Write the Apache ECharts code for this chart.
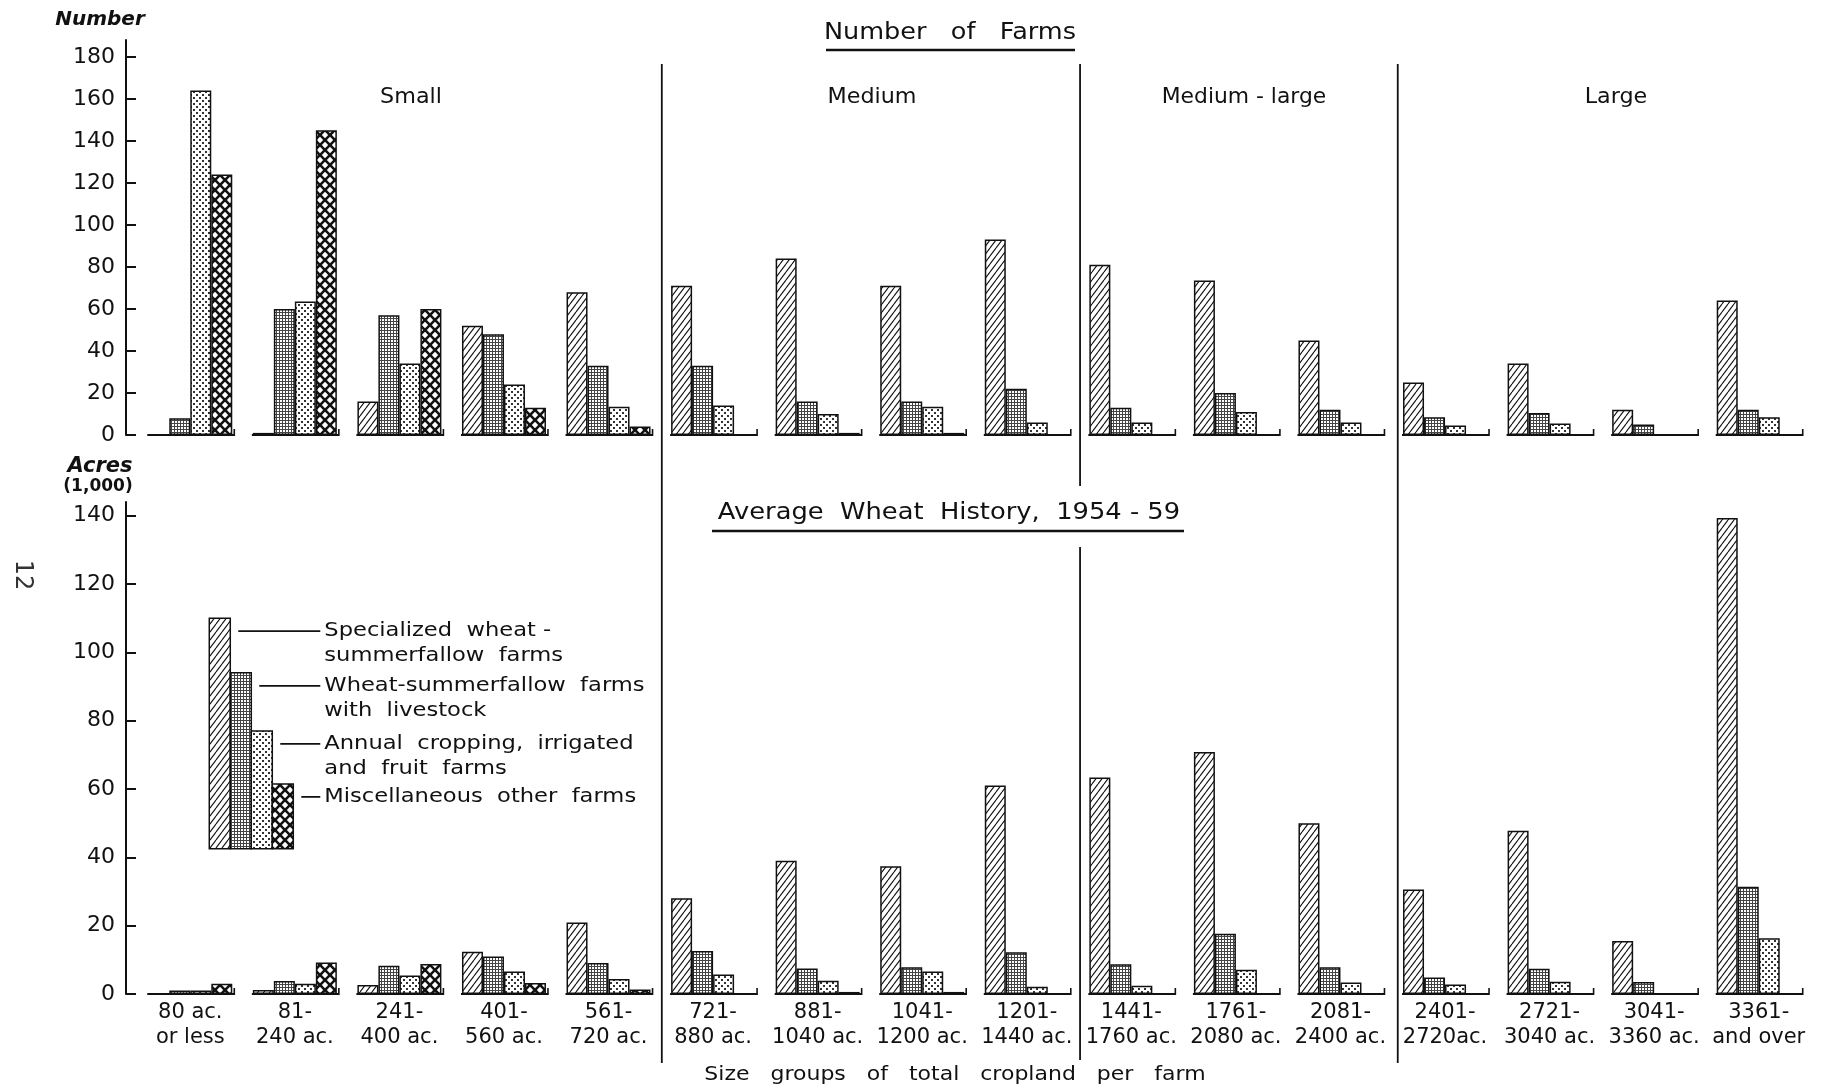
<!DOCTYPE html>
<html>
<head>
<meta charset="utf-8">
<script src="https://cdn.jsdelivr.net/npm/echarts@6/dist/echarts.min.js"></script>
<style>
html,body{margin:0;padding:0;background:#fff;}
#chart{width:1834px;height:1089px;}
</style>
</head>
<body>
<div id="chart"></div>
<script>
// ---------------- data ----------------
const categories = [
  '80 ac.\nor less', '81-\n240 ac.', '241-\n400 ac.', '401-\n560 ac.', '561-\n720 ac.',
  '721-\n880 ac.', '881-\n1040 ac.', '1041-\n1200 ac.', '1201-\n1440 ac.',
  '1441-\n1760 ac.', '1761-\n2080 ac.', '2081-\n2400 ac.',
  '2401-\n2720ac.', '2721-\n3040 ac.', '3041-\n3360 ac.', '3361-\nand over'
];
const seriesNames = [
  'Specialized wheat-summerfallow farms',
  'Wheat-summerfallow farms with livestock',
  'Annual cropping, irrigated and fruit farms',
  'Miscellaneous other farms'
];
// Number of farms
const farmsSpecialized = [0, 1, 16, 52, 68, 71, 84, 71, 93, 81, 73.5, 45, 25, 34, 12, 64];
const farmsLivestock   = [8, 60, 57, 48, 33, 33, 16, 16, 22, 13, 20, 12, 8.5, 10.5, 5, 12];
const farmsAnnual      = [164, 63.5, 34, 24, 13.5, 14, 10, 13.5, 6, 6, 11, 6, 4.5, 5.5, 0, 8.5];
const farmsMisc        = [124, 145, 60, 13, 4, 0, 1, 1, 0, 0, 0, 0, 0, 0, 0, 0];
// Average wheat history 1954-59, 1,000 acres
const acresSpecialized = [0, 1.2, 2.6, 12.4, 20.9, 28, 39, 37.4, 61, 63.4, 70.8, 50, 30.6, 47.8, 15.5, 139.3];
const acresLivestock   = [1, 3.8, 8.3, 11, 9.1, 12.6, 7.5, 7.8, 12.2, 8.7, 17.6, 7.8, 4.8, 7.4, 3.5, 31.4];
const acresAnnual      = [1, 3, 5.4, 6.6, 4.4, 5.7, 3.9, 6.6, 2.1, 2.4, 7.1, 3.4, 2.8, 3.6, 0, 16.3];
const acresMisc        = [3, 9.2, 8.8, 3.2, 1.3, 0, 0.6, 0.6, 0, 0, 0, 0, 0, 0, 0, 0];
// tick labels
const farmTicks = [0, 20, 40, 60, 80, 100, 120, 140, 160, 180];
const acreTicks = [0, 20, 40, 60, 80, 100, 120, 140];
// size classes: first category of each class after the first
const classStarts = [5, 9, 12];
const classNames = ['Small', 'Medium', 'Medium - large', 'Large'];
// legend key (drawn in acres scale)
const legendTops = [110, 94, 77, 61.5];
const legendBase = 42.5;
const legendText = [
  ['Specialized  wheat -', 'summerfallow  farms'],
  ['Wheat-summerfallow  farms', 'with  livestock'],
  ['Annual  cropping,  irrigated', 'and  fruit  farms'],
  ['Miscellaneous  other  farms']
];

// ---------------- styles ----------------
const FONT = "'DejaVu Sans', sans-serif";
const INK = '#111';
const BAR_W = 21;

function makeCanvas(w, h, draw) {
  const c = document.createElement('canvas');
  c.width = w; c.height = h;
  const g = c.getContext('2d');
  g.fillStyle = '#fff';
  g.fillRect(0, 0, w, h);
  draw(g, w, h);
  return c;
}
const hatchCanvas = makeCanvas(6, 8, (g, w, h) => {
  g.strokeStyle = INK; g.lineWidth = 1.1;
  g.beginPath();
  g.moveTo(0, h); g.lineTo(w, 0);
  g.moveTo(-w, h); g.lineTo(0, 0);
  g.moveTo(w, h); g.lineTo(2 * w, 0);
  g.stroke();
});
const gridCanvas = makeCanvas(3, 3, (g) => {
  g.fillStyle = '#444';
  g.fillRect(0, 0, 3, 1);
  g.fillRect(0, 0, 1, 3);
});
const dotCanvas = makeCanvas(6, 6, (g) => {
  g.fillStyle = '#333';
  g.fillRect(1, 1, 2, 2);
  g.fillRect(4, 4, 2, 2);
});
const diamondCanvas = makeCanvas(10, 10, (g) => {
  g.fillStyle = INK; g.fillRect(0, 0, 10, 10);
  g.fillStyle = '#fff';
  const r = 3.2;
  [[5, 5], [0, 0], [10, 0], [0, 10], [10, 10]].forEach(([cx, cy]) => {
    g.beginPath();
    g.moveTo(cx, cy - r); g.lineTo(cx + r, cy); g.lineTo(cx, cy + r); g.lineTo(cx - r, cy);
    g.closePath(); g.fill();
  });
});
const patterns = [hatchCanvas, gridCanvas, dotCanvas, diamondCanvas].map(c => ({ image: c, repeat: 'repeat' }));

// ---------------- chart ----------------
const chart = echarts.init(document.getElementById('chart'), null, { renderer: 'canvas' });

function barSeries(values, idx, axis) {
  return {
    type: 'bar', name: seriesNames[idx], data: values,
    xAxisIndex: axis, yAxisIndex: axis,
    barWidth: BAR_W, barGap: '0%',
    itemStyle: { color: patterns[idx], borderColor: INK, borderWidth: 1.5 },
    silent: true, z: 3
  };
}
function baselineRender(params, api) {
  const p = api.coord([api.value(0), 0]);
  const half = BAR_W * 2;
  return {
    type: 'group', children: [
      { type: 'line', shape: { x1: p[0] - half - 1, y1: p[1], x2: p[0] + half + 2, y2: p[1] }, style: { stroke: INK, lineWidth: 2 } },
      { type: 'line', shape: { x1: p[0] + half + 2, y1: p[1] + 1, x2: p[0] + half + 2, y2: p[1] - 6 }, style: { stroke: INK, lineWidth: 1.6 } }
    ]
  };
}
function baselineSeries(axis) {
  return {
    type: 'custom', xAxisIndex: axis, yAxisIndex: axis, silent: true, z: 4,
    data: categories.map((_, i) => [i, 0]),
    renderItem: baselineRender
  };
}
function separatorRender(params, api) {
  const i = api.value(0);
  const band = api.size([1, 0])[0];
  const x = api.coord([i, 0])[0] - band / 2 + (i === 12 ? 5 : 1);
  const segs = i === 9 ? [[64, 486], [547, 1060]] : [[64, 1063]];
  return {
    type: 'group',
    children: segs.map(s => ({ type: 'line', shape: { x1: x, y1: s[0], x2: x, y2: s[1] }, style: { stroke: INK, lineWidth: 1.8 } }))
  };
}
function legendRender(params, api) {
  const base = api.coord([0, legendBase]);
  const x0 = base[0] + 19;
  const children = [];
  legendTops.forEach((v, i) => {
    const topY = api.coord([0, v])[1];
    const x = x0 + i * BAR_W;
    children.push({ type: 'rect', shape: { x: x, y: topY, width: BAR_W, height: base[1] - topY },
      style: { fill: patterns[i], stroke: INK, lineWidth: 1.5 } });
    const ly = topY + 13;
    children.push({ type: 'line', shape: { x1: x + BAR_W + 8, y1: ly, x2: x0 + 111, y2: ly },
      style: { stroke: INK, lineWidth: 1.8 } });
    legendText[i].forEach((t, k) => {
      children.push({ type: 'text', x: x0 + 115, y: ly + k * 25, scaleX: 1.13,
        style: { text: t, fill: INK, font: '20px ' + FONT, align: 'left', verticalAlign: 'middle',
                 textAlign: 'left', textVerticalAlign: 'middle' } });
    });
  });
  return { type: 'group', children };
}

function yAxisCfg(grid, max, ticks) {
  return {
    type: 'value', gridIndex: grid, min: 0, max: max, interval: 20, offset: 12,
    axisLine: { show: true, lineStyle: { color: INK, width: 2 } },
    axisTick: { show: true, inside: true, length: 10, lineStyle: { color: INK, width: 2 }, customValues: ticks },
    axisLabel: { show: true, customValues: ticks, margin: 11, color: INK, fontSize: 22, fontFamily: FONT,
      formatter: v => (ticks.indexOf(v) >= 0 ? String(v) : '') },
    splitLine: { show: false }
  };
}

function txt(x, y, text, font, sx) {
  return {
    type: 'text', x: x, y: y, silent: true, scaleX: sx || 1,
    style: { text: text, fill: INK, font: font, align: 'center', verticalAlign: 'middle',
             textAlign: 'center', textVerticalAlign: 'middle' }
  };
}

const pageNo = txt(22, 575, '12', '24px ' + FONT);
pageNo.rotation = -Math.PI / 2;
pageNo.style.fill = '#333';

const option = {
  backgroundColor: '#fff',
  animation: false,
  grid: [
    { left: 138, right: 23, top: 40, bottom: 654 },
    { left: 138, right: 23, top: 502, bottom: 95 }
  ],
  xAxis: [
    { type: 'category', gridIndex: 0, data: categories, axisLine: { show: false }, axisTick: { show: false }, axisLabel: { show: false }, splitLine: { show: false } },
    { type: 'category', gridIndex: 1, data: categories, axisLine: { show: false }, axisTick: { show: false }, splitLine: { show: false },
      axisLabel: { interval: 0, color: INK, fontSize: 21, lineHeight: 25, margin: 6, fontFamily: FONT } }
  ],
  yAxis: [
    yAxisCfg(0, 188, farmTicks),
    yAxisCfg(1, 144, acreTicks)
  ],
  series: [
    baselineSeries(0), baselineSeries(1),
    barSeries(farmsSpecialized, 0, 0), barSeries(farmsLivestock, 1, 0), barSeries(farmsAnnual, 2, 0), barSeries(farmsMisc, 3, 0),
    barSeries(acresSpecialized, 0, 1), barSeries(acresLivestock, 1, 1), barSeries(acresAnnual, 2, 1), barSeries(acresMisc, 3, 1),
    { type: 'custom', xAxisIndex: 1, yAxisIndex: 1, silent: true, z: 5, clip: false,
      data: classStarts.map(i => [i, 0]), renderItem: separatorRender },
    { type: 'custom', xAxisIndex: 1, yAxisIndex: 1, silent: true, z: 5, clip: false,
      data: [[0, legendBase]], renderItem: legendRender }
  ],
  graphic: [
    txt(100, 20, 'Number', 'italic bold 20px ' + FONT),
    txt(100, 467, 'Acres', 'italic bold 21px ' + FONT),
    txt(98, 487, '(1,000)', 'bold 17px ' + FONT),
    txt(950, 33, 'Number   of   Farms', '23px ' + FONT, 1.11),
    { type: 'line', silent: true, shape: { x1: 826, y1: 50, x2: 1075, y2: 50 }, style: { stroke: INK, lineWidth: 2.5 } },
    txt(949, 513, 'Average  Wheat  History,  1954 - 59', '23px ' + FONT, 1.12),
    { type: 'line', silent: true, shape: { x1: 712, y1: 531, x2: 1184, y2: 531 }, style: { stroke: INK, lineWidth: 2.5 } },
    txt(411, 98, classNames[0], '21px ' + FONT, 1.06),
    txt(872, 98, classNames[1], '21px ' + FONT, 1.06),
    txt(1244, 98, classNames[2], '21px ' + FONT, 1.04),
    txt(1616, 98, classNames[3], '21px ' + FONT, 1.06),
    txt(955, 1075, 'Size   groups   of   total   cropland   per   farm', '20px ' + FONT, 1.1),
    pageNo
  ]
};
chart.setOption(option);
</script>
</body>
</html>
